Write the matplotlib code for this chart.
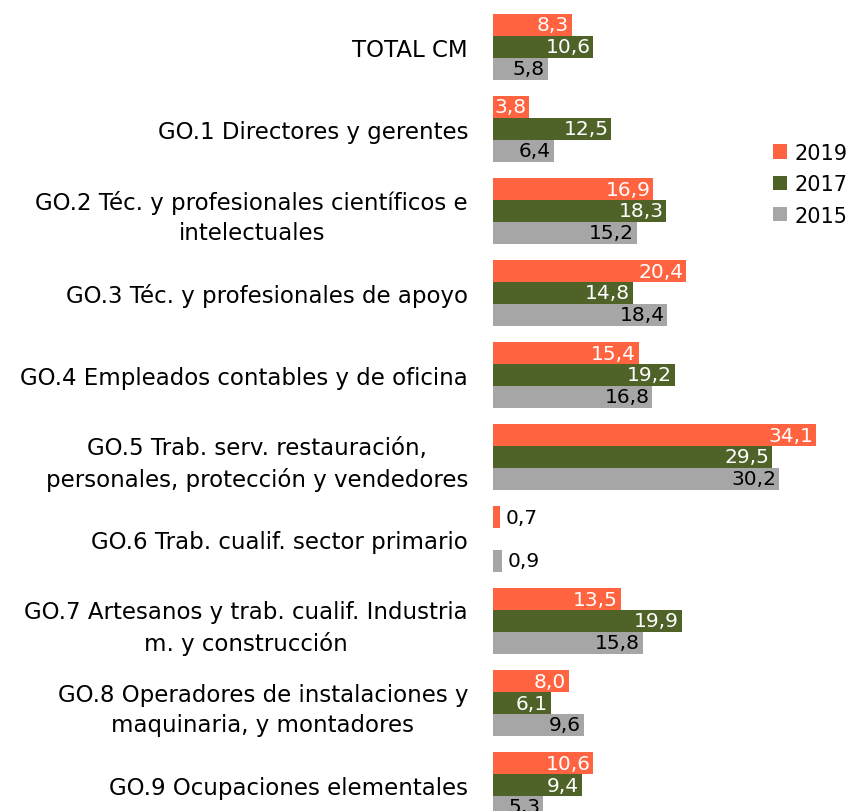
import numpy as np
import matplotlib.pyplot as plt

categories = ["TOTAL CM",
              "GO.1 Directores y gerentes",
              "GO.2 Téc. y profesionales científicos e\nintelectuales",
              "GO.3 Téc. y profesionales de apoyo",
              "GO.4 Empleados contables y de oficina",
              "GO.5 Trab. serv. restauración,\npersonales, protección y vendedores",
              "GO.6 Trab. cualif. sector primario",
              "GO.7 Artesanos y trab. cualif. Industria\nm. y construcción",
              "GO.8 Operadores de instalaciones y\nmaquinaria, y montadores",
              "GO.9 Ocupaciones elementales"]
v2019 = [8.3, 3.8, 16.9, 20.4, 15.4, 34.1, 0.7, 13.5, 8.0, 10.6]
v2017 = [10.6, 12.5, 18.3, 14.8, 19.2, 29.5, np.nan, 19.9, 6.1, 9.4]
v2015 = [5.8, 6.4, 15.2, 18.4, 16.8, 30.2, 0.9, 15.8, 9.6, 5.3]

series = [("2019", v2019, "#FF6340", "white"),
          ("2017", v2017, "#4F6228", "white"),
          ("2015", v2015, "#A6A6A6", "black")]

plt.rcParams['font.family'] = ['DejaVu Sans']
fig = plt.figure(figsize=(8.53, 8.12), dpi=100)
ax = fig.add_axes([493/853, 0, 1 - 493/853, 1])

y = np.arange(len(categories))
h = 0.268
for k, (name, vals, col, tcol) in enumerate(series):
    pos = y + (k - 1) * h
    ax.barh(pos, vals, height=h, color=col, label=name)
    for p, v in zip(pos, vals):
        if np.isnan(v):
            continue
        txt = f"{v:.1f}".replace(".", ",")
        if v < 1:
            ax.text(v + 0.6, p, txt, ha="left", va="center", fontsize=14.5, color="black")
        else:
            ax.text(v - 0.3, p, txt, ha="right", va="center", fontsize=14.5, color=tcol)

ax.set_xlim(0, 38)
ax.set_ylim(9.317, -0.585)
ax.set_yticks(y)
ax.set_yticklabels(categories, fontsize=16.5)
for lab in ax.get_yticklabels():
    lab.set_multialignment("center")
    lab.set_linespacing(1.4)
ax.tick_params(axis="y", length=0, pad=18)
ax.set_xticks([])
for s in ax.spines.values():
    s.set_visible(False)

fig.legend(loc="upper left", bbox_to_anchor=(773/853, 0.823), frameon=False,
           borderpad=0, borderaxespad=0,
           fontsize=15, handlelength=0.67, handleheight=0.67, handletextpad=0.38,
           labelspacing=0.55)

fig.savefig("out.png", dpi=100)
